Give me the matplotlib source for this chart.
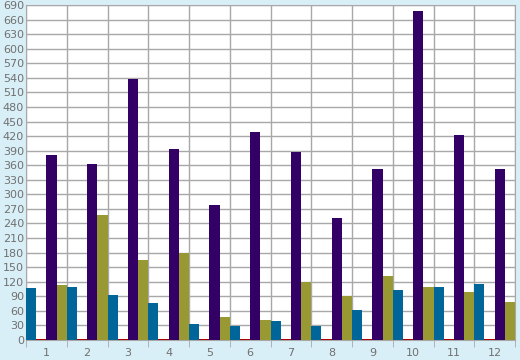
import numpy as np
import matplotlib.pyplot as plt

categories = ['1', '2', '3', '4', '5', '6', '7', '8', '9', '10', '11', '12']
blue = [107, 109, 93, 76, 33, 29, 39, 29, 62, 103, 109, 115]
red = [3, 3, 3, 3, 3, 3, 3, 3, 3, 3, 3, 3]
purple = [381, 362, 537, 393, 278, 428, 387, 251, 352, 678, 422, 352]
olive = [113, 257, 165, 180, 47, 41, 119, 91, 132, 109, 99, 78]

bg = '#d9eff7'
grid_c = '#a8a8a8'
text_c = '#707070'

fig = plt.figure(figsize=(5.2, 3.6), dpi=100, facecolor=bg)
ax = fig.add_axes([26 / 520, 1 - 340 / 360, 489 / 520, 335 / 360])
ax.set_facecolor('white')

x = np.arange(len(categories))
w = 0.25
series = [(blue, '#006699'), (red, '#aa0000'), (purple, '#330066'), (olive, '#999933')]
for i, (vals, col) in enumerate(series):
    ax.bar(x + i * w, vals, width=w, align='edge', color=col, zorder=3)

ax.set_xlim(0, len(categories))
ax.set_ylim(0, 690)
ax.set_yticks(range(0, 691, 30))
ax.set_xticks(x + 0.5)
ax.set_xticklabels(categories)
ax.set_xticks(np.arange(len(categories) + 1), minor=True)

ax.grid(True, which='major', axis='y', color=grid_c, linewidth=1, zorder=1)
ax.grid(True, which='minor', axis='x', color=grid_c, linewidth=1, zorder=1)

ax.tick_params(axis='x', which='major', length=0, pad=6, labelsize=8, labelcolor=text_c)
ax.tick_params(axis='x', which='minor', length=5, color=grid_c, direction='out')
ax.tick_params(axis='y', length=0, pad=1.5, labelsize=8, labelcolor=text_c)
for s in ax.spines.values():
    s.set_color(grid_c)

plt.savefig('out.png', dpi=100, facecolor=bg)
